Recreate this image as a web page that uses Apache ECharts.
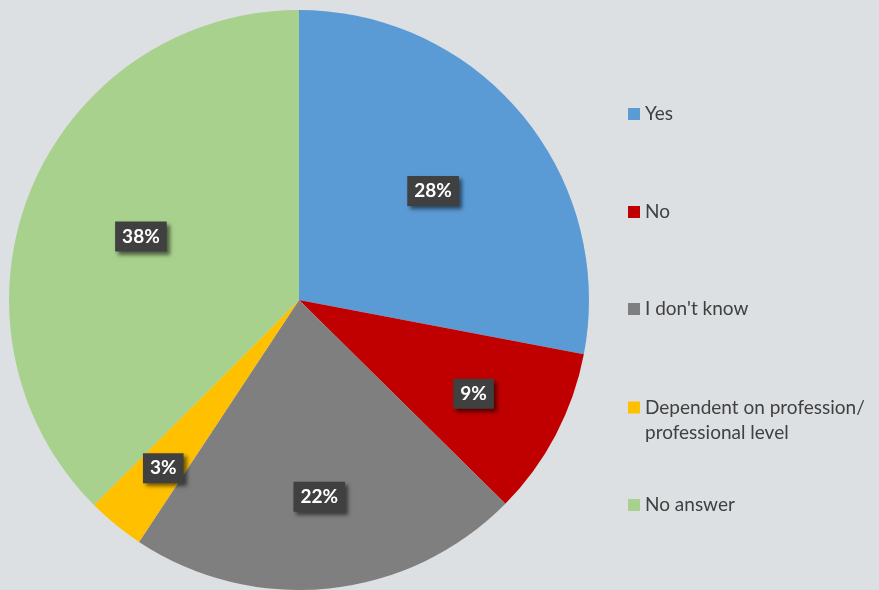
<!DOCTYPE html>
<html>
<head>
<meta charset="utf-8">
<script src="https://cdn.jsdelivr.net/npm/echarts@6/dist/echarts.min.js"></script>
<style>
html,body{margin:0;padding:0;background:#dde0e3;}
#main{width:879px;height:590px;}
</style>
</head>
<body>
<div id="main"></div>
<script>
// Data
const categories = ['Yes', 'No', "I don't know", 'Dependent on profession/ professional level', 'No answer'];
const shares = [28.0, 9.4, 21.9, 3.2, 37.5];
const colors = ['#5b9bd5', '#c00000', '#7f7f7f', '#ffc000', '#a9d18e'];

const chart = echarts.init(document.getElementById('main'), null, {renderer: 'canvas'});

// label radial placement (fraction of radius) per slice
const labelFrac = [0.6, 0.68, 0.675, 0.74, 0.59];
const legendCenters = [114, 212, 309, 407.5, 505];

const fontFam = 'Lato, "Open Sans", sans-serif';

const legends = categories.map((name, i) => {
  const twoLine = name.indexOf('/ ') >= 0;
  return {
    orient: 'vertical',
    left: 628,
    top: twoLine ? legendCenters[i] - 37.5 : legendCenters[i] - 12.5,
    icon: 'rect',
    itemWidth: 12,
    itemHeight: 12,
    itemGap: 0,
    padding: 0,
    selectedMode: false,
    data: [name],
    formatter: n => n.indexOf('/ ') >= 0 ? ' \n' + n.replace('/ ', '/\n') : n,
    textStyle: {
      color: '#404040',
      fontSize: 19,
      fontFamily: fontFam,
      lineHeight: 25
    }
  };
});

chart.setOption({
  backgroundColor: '#dde0e3',
  animation: false,
  color: colors,
  legend: legends,
  series: [{
    type: 'pie',
    center: [299, 300],
    radius: [0, 290],
    startAngle: 90,
    clockwise: true,
    avoidLabelOverlap: false,
    itemStyle: {borderWidth: 0},
    emphasis: {disabled: true},
    data: categories.map((c, i) => ({name: c, value: shares[i]})),
    label: {
      show: true,
      position: 'inside',
      formatter: p => Math.round(p.percent) + '%',
      color: '#ffffff',
      fontWeight: 'bold',
      fontSize: 19,
      fontFamily: fontFam,
      backgroundColor: '#404040',
      padding: [6, 7, 5, 7],
      shadowColor: 'rgba(0,0,0,0.55)',
      shadowBlur: 4,
      shadowOffsetX: 3,
      shadowOffsetY: 3
    },
    labelLine: {show: false},
    labelLayout: function (params) {
      const data = chart.getModel().getSeriesByIndex(0).getData();
      const lay = data.getItemLayout(params.dataIndex);
      const mid = (lay.startAngle + lay.endAngle) / 2;
      const rr = lay.r * labelFrac[params.dataIndex];
      return {
        x: lay.cx + Math.cos(mid) * rr,
        y: lay.cy + Math.sin(mid) * rr + 2,
        align: 'center',
        verticalAlign: 'middle'
      };
    }
  }]
});
</script>
</body>
</html>
